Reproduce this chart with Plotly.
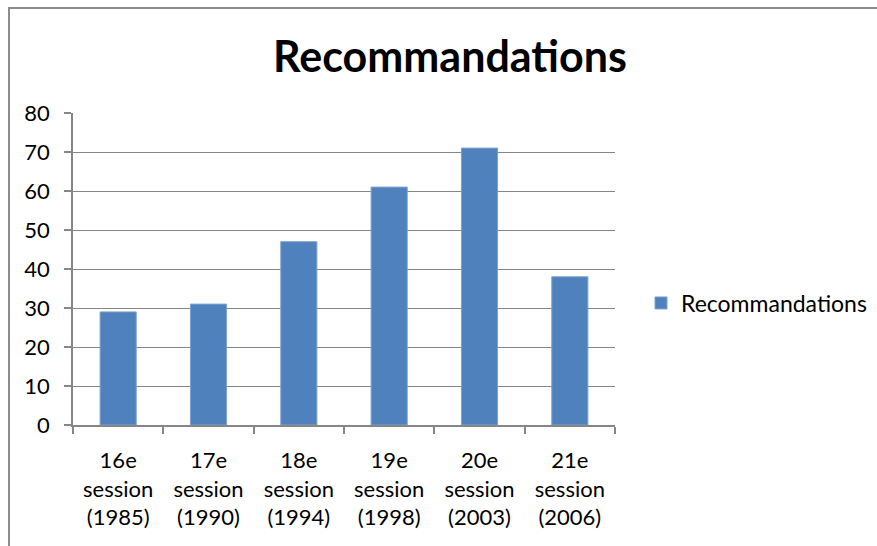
import plotly.graph_objects as go

categories = ["16e<br>session<br>(1985)", "17e<br>session<br>(1990)", "18e<br>session<br>(1994)",
              "19e<br>session<br>(1998)", "20e<br>session<br>(2003)", "21e<br>session<br>(2006)"]
values = [29, 31, 47, 61, 71, 38]
series_name = "Recommandations"
title_text = "Recommandations"
y_ticks = [0, 10, 20, 30, 40, 50, 60, 70, 80]

W, H = 877, 546
L, R, T, B = 73, 262, 113, 121
FONT = "Lato"
GRID = "#868686"

fig = go.Figure()
fig.add_trace(go.Bar(
    x=categories, y=values, name=series_name,
    marker=dict(color="#4F81BD", line=dict(color="#7EA2CF", width=1)),
    width=0.4, showlegend=True,
))

fig.update_layout(
    width=W, height=H,
    margin=dict(l=L, r=R, t=T, b=B, pad=0),
    paper_bgcolor="white", plot_bgcolor="white",
    font=dict(family=FONT, color="#000000", size=22),
    title=dict(text="<b>%s</b>" % title_text, x=(450) / W, xanchor="center",
               y=1 - 57 / H, yanchor="middle", yref="container", xref="container",
               font=dict(family=FONT, size=43, color="#000000")),
    showlegend=True,
    legend=dict(xref="container", yref="container", x=641 / W, y=1 - 303 / H,
                xanchor="left", yanchor="middle", font=dict(family=FONT, size=23, color="#000000"),
                itemwidth=30, bgcolor="rgba(0,0,0,0)"),
    bargap=0.6,
)

fig.update_yaxes(
    range=[0, 80], tickvals=y_ticks, ticktext=[str(v) for v in y_ticks],
    showgrid=True, gridcolor=GRID, gridwidth=1,
    showline=True, linecolor=GRID, linewidth=1.5,
    ticks="outside", ticklen=7, tickcolor=GRID, tickwidth=1.5,
    zeroline=False, fixedrange=True, ticklabelstandoff=10,
    tickfont=dict(family=FONT, size=22, color="#000000"),
)
fig.update_xaxes(
    type="category", tickson="boundaries",
    showline=True, linecolor=GRID, linewidth=1.5,
    ticks="outside", ticklen=7, tickcolor=GRID, tickwidth=1.5,
    showgrid=False, fixedrange=True, ticklabelstandoff=15,
    tickfont=dict(family=FONT, size=22, color="#000000"),
)

# outer chart frame (left and top edges visible, runs off the page)
fig.add_shape(type="rect", xref="paper", yref="paper",
              x0=(9 - L) / (W - L - R), x1=1.6,
              y0=-0.6, y1=(425 - 8) / (425 - 113),
              line=dict(color="#8C8C8C", width=2), fillcolor="rgba(0,0,0,0)", layer="below")

fig.write_html("out.html")
